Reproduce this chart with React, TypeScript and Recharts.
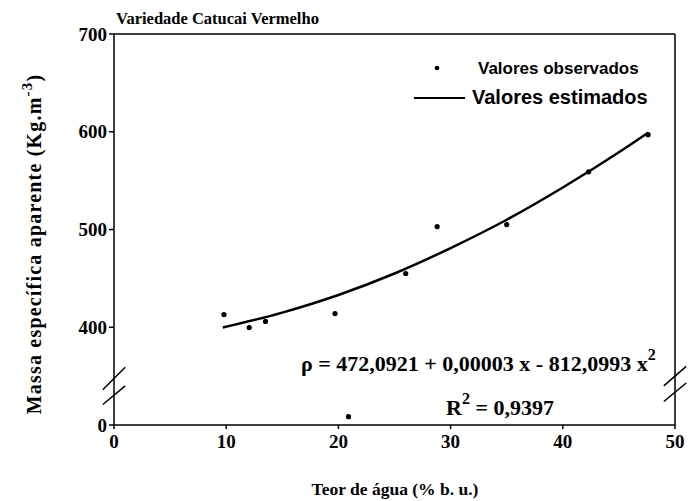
import React from 'react';
import { ComposedChart, XAxis, YAxis, Scatter, Line, ReferenceLine } from 'recharts';

// Observed values (Teor de água %, massa específica kg/m3)
const obsX = [9.8, 12.05, 13.5, 19.7, 20.9, 26.0, 28.8, 35.0, 42.3, 47.6];
const obsY = [413, 399, 406, 414, 34, 455, 503, 505, 559, 597];

// Estimated curve
const estX = [9.7, 15, 20, 25, 30, 35, 40, 45, 47.6];
const estY = [399, 415, 433, 455, 481, 510, 543, 579, 599];

const xTicks = [0, 10, 20, 30, 40, 50];
const yTicks = [0, 400, 500, 600, 700];

// axis break: 0..400 compressed into the span of 300..400
const toDisp = (v: number) => (v >= 400 ? v : 300 + v / 4);
const fromDisp = (d: number) => (d >= 400 ? d : (d - 300) * 4);

const observed = obsX.map((x, i) => ({ x, y: toDisp(obsY[i]) }));
const estimated = estX.map((x, i) => ({ x, y: toDisp(estY[i]) }));

const SERIF = "'Liberation Serif', 'Times New Roman', serif";
const SANS = "'Liberation Sans', Arial, sans-serif";

const Dot = (props: any) => {
  const { cx, cy } = props;
  if (cx == null || cy == null) return null;
  return <circle cx={cx} cy={cy} r={2.6} fill="#000" />;
};

export default function App() {
  const tickStyle = { fontFamily: SERIF, fontWeight: 700, fontSize: 19, fill: '#000' };
  return (
    <div style={{ position: 'absolute', left: 0, top: 0, width: 693, height: 501, background: '#fff' }}>
      <ComposedChart
        width={693}
        height={501}
        margin={{ top: 34, right: 18, bottom: 0, left: 0 }}
      >
        <XAxis
          type="number"
          dataKey="x"
          domain={[0, 50]}
          ticks={xTicks}
          allowDataOverflow
          height={76}
          stroke="#000"
          strokeWidth={1.5}
          tickSize={4}
          tick={tickStyle}
          tickMargin={6}
        />
        <YAxis
          type="number"
          dataKey="y"
          domain={[300, 700]}
          ticks={yTicks.map(toDisp)}
          tickFormatter={(v: number) => String(Math.round(fromDisp(v)))}
          allowDataOverflow
          width={114}
          stroke="#000"
          strokeWidth={1.5}
          tickSize={5}
          tick={tickStyle}
          tickMargin={2}
        />
        <ReferenceLine y={700} stroke="#000" strokeWidth={1.5} />
        <ReferenceLine x={50} stroke="#000" strokeWidth={1.5} />
        {/* axis break marks */}
        <ReferenceLine segment={[{ x: -1, y: 336 }, { x: 1, y: 359 }]} stroke="#000" strokeWidth={1.5} ifOverflow="visible" />
        <ReferenceLine segment={[{ x: -1, y: 321 }, { x: 1, y: 340 }]} stroke="#000" strokeWidth={1.5} ifOverflow="visible" />
        <ReferenceLine segment={[{ x: 49, y: 340 }, { x: 51, y: 360 }]} stroke="#000" strokeWidth={1.5} ifOverflow="visible" />
        <ReferenceLine segment={[{ x: 49, y: 324 }, { x: 51, y: 343 }]} stroke="#000" strokeWidth={1.5} ifOverflow="visible" />
        <Line
          data={estimated}
          dataKey="y"
          type="monotone"
          stroke="#000"
          strokeWidth={2.5}
          dot={false}
          activeDot={false}
          isAnimationActive={false}
        />
        <Scatter data={observed} dataKey="y" fill="#000" shape={<Dot />} isAnimationActive={false} />
      </ComposedChart>
      <svg width={693} height={501} style={{ position: 'absolute', left: 0, top: 0, pointerEvents: 'none' }}>
        <text x={116} y={24} fontFamily={SERIF} fontWeight={700} fontSize={16.5} fill="#000">Variedade Catucai Vermelho</text>
        <text transform="translate(41,244) rotate(-90)" textAnchor="middle" fontFamily={SERIF} fontWeight={700} fontSize={20} letterSpacing={1.2} fill="#000">
          Massa específica aparente  (Kg.m<tspan dy={-9} fontSize={15}>-3</tspan><tspan dy={9}>)</tspan>
        </text>
        <text x={395} y={495} textAnchor="middle" fontFamily={SERIF} fontWeight={700} fontSize={17.5} fill="#000">Teor de água (% b. u.)</text>
        {/* legend */}
        <circle cx={437} cy={68} r={2.3} fill="#000" />
        <text x={478} y={74} fontFamily={SANS} fontWeight={700} fontSize={17} fill="#000">Valores observados</text>
        <line x1={414} y1={98} x2={465} y2={98} stroke="#000" strokeWidth={2} />
        <text x={472} y={104} fontFamily={SANS} fontWeight={700} fontSize={20} fill="#000">Valores estimados</text>
        {/* equation */}
        <text x={301} y={371} fontFamily={SERIF} fontWeight={700} fontSize={22} fill="#000">
          ρ = 472,0921 + 0,00003 x - 812,0993 x<tspan dy={-11} fontSize={16}>2</tspan>
        </text>
        <text x={446} y={415} fontFamily={SERIF} fontWeight={700} fontSize={22} fill="#000">
          R<tspan dy={-11} fontSize={16}>2</tspan><tspan dy={11}> = 0,9397</tspan>
        </text>
      </svg>
    </div>
  );
}
